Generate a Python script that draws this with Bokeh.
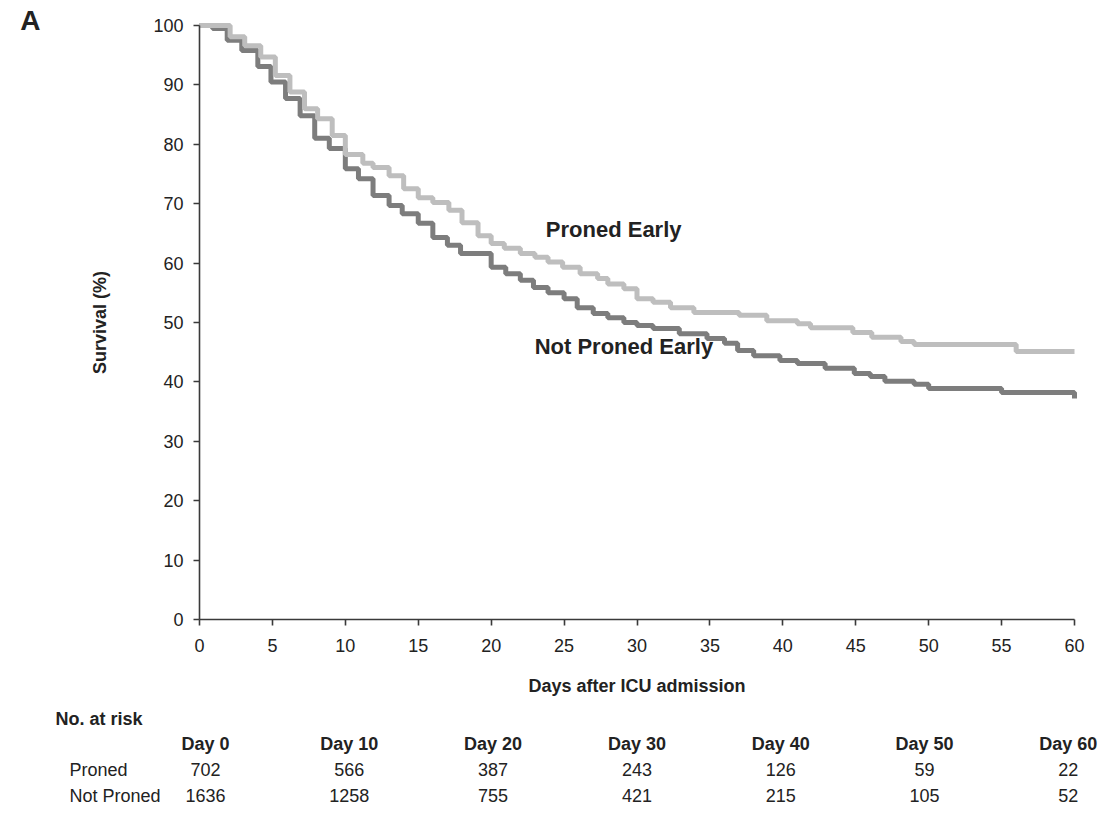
from bokeh.plotting import figure
from bokeh.models import Range1d, Label, FixedTicker
from bokeh.layouts import column
from bokeh.core.properties import value
from bokeh.embed import file_html
from bokeh.resources import INLINE

FONT = "Liberation Sans"

# Kaplan-Meier step data (time in days, survival %)
proned_t = [0, 2.1, 3.1, 4.2, 5.2, 6.2, 7.2, 8.1, 9.1, 10.0, 11.2, 11.9, 13.0, 14.0, 15.0,
            16.0, 17.1, 18.0, 19.1, 20.0, 20.9, 22.0, 23.0, 23.9, 24.9, 26.1, 27.3, 28.0,
            29.1, 30.0, 31.1, 32.3, 33.9, 37.0, 38.9, 41.0, 41.9, 44.8, 46.1, 48.1, 49.0,
            56.0, 60.0]
proned_v = [100, 98.1, 96.6, 94.7, 91.6, 88.8, 86.0, 84.3, 81.5, 78.3, 76.8, 76.1, 74.7,
            72.5, 71.0, 70.2, 68.9, 66.8, 64.6, 63.3, 62.5, 61.6, 61.0, 60.2, 59.3, 58.2,
            57.4, 56.5, 55.7, 54.0, 53.4, 52.5, 51.7, 51.2, 50.3, 49.8, 49.1, 48.3, 47.5,
            46.8, 46.3, 45.1, 45.1]

notproned_t = [0, 0.9, 1.9, 2.9, 4.0, 4.9, 5.9, 6.9, 7.9, 8.9, 10.0, 10.9, 11.9, 13.0, 13.9,
               15.0, 16.0, 17.0, 17.9, 20.0, 21.0, 22.0, 22.9, 23.9, 25.0, 25.9, 27.0, 28.0,
               29.1, 30.0, 31.1, 32.9, 34.8, 36.0, 36.9, 38.0, 39.8, 41.0, 42.9, 44.9, 46.0,
               47.0, 49.0, 50.0, 55.0, 60.0]
notproned_v = [100, 99.5, 97.5, 95.8, 93.1, 90.5, 87.7, 84.8, 81.0, 79.3, 75.9, 74.2, 71.4,
               69.7, 68.3, 66.7, 64.3, 63.0, 61.6, 59.3, 58.2, 57.1, 55.9, 55.0, 54.0, 52.5,
               51.5, 50.8, 50.0, 49.5, 49.0, 48.1, 47.3, 46.5, 45.3, 44.4, 43.6, 43.1, 42.3,
               41.4, 40.9, 40.1, 39.6, 38.9, 38.2, 37.2]

x_ticks = [0, 5, 10, 15, 20, 25, 30, 35, 40, 45, 50, 55, 60]
y_ticks = [0, 10, 20, 30, 40, 50, 60, 70, 80, 90, 100]

# Number at risk table
risk_days = ["Day 0", "Day 10", "Day 20", "Day 30", "Day 40", "Day 50", "Day 60"]
risk_proned = [702, 566, 387, 243, 126, 59, 22]
risk_notproned = [1636, 1258, 755, 421, 215, 105, 52]
row_labels = ["Proned", "Not Proned"]
table_title = "No. at risk"

TEXT = "#222222"
AXIS = "#3a3a3a"

# ---------------- main survival plot ----------------
# frame covers the whole canvas; both axes are pinned at the data origin
PX_PER_DAY = 875 / 60.0
PX_PER_PCT = 5.94
W, H = 1099, 700
X0 = -199 / PX_PER_DAY
Y0 = -(H - 619) / PX_PER_PCT
p = figure(frame_width=W, frame_height=H,
           x_range=Range1d(X0, X0 + W / PX_PER_DAY),
           y_range=Range1d(Y0, Y0 + H / PX_PER_PCT),
           output_backend="svg", toolbar_location=None,
           min_border_left=0, min_border_right=0, min_border_top=0, min_border_bottom=0)
p.outline_line_color = None
p.grid.grid_line_color = None
p.background_fill_color = "white"
p.border_fill_color = "white"

p.step(notproned_t, notproned_v, mode="after", line_color="#7d7d7d", line_width=5)
p.step(proned_t, proned_v, mode="after", line_color="#bebebe", line_width=5)

for ax in (p.xaxis[0], p.yaxis[0]):
    ax.axis_line_color = AXIS
    ax.axis_line_width = 1.6
    ax.major_tick_line_color = AXIS
    ax.major_tick_line_width = 1.6
    ax.major_tick_in = 0
    ax.major_tick_out = 6
    ax.minor_tick_line_color = None
    ax.major_label_text_font = FONT
    ax.major_label_text_font_size = "18px"
    ax.major_label_text_color = TEXT
    ax.axis_label_text_font = FONT
    ax.axis_label_text_font_size = "18px"
    ax.axis_label_text_font_style = "bold"
    ax.axis_label_text_color = TEXT
    ax.fixed_location = 0

p.xaxis[0].ticker = FixedTicker(ticks=x_ticks)
p.yaxis[0].ticker = FixedTicker(ticks=y_ticks)
p.xaxis[0].bounds = (0, 60)
p.yaxis[0].bounds = (0, 100)
p.xaxis[0].axis_label = "Days after ICU admission"
p.yaxis[0].axis_label = "Survival (%)"
p.xaxis[0].major_label_standoff = 13
p.yaxis[0].major_label_standoff = 10
p.xaxis[0].axis_label_standoff = 21
p.yaxis[0].axis_label_standoff = 40

p.add_layout(Label(x=28.4, y=65.7, text="Proned Early", text_font=FONT,
                   text_font_size="22px", text_font_style="bold", text_color=TEXT,
                   text_align="center", text_baseline="middle"))
p.add_layout(Label(x=29.1, y=46.0, text="Not Proned Early", text_font=FONT,
                   text_font_size="22px", text_font_style="bold", text_color=TEXT,
                   text_align="center", text_baseline="middle"))
p.add_layout(Label(x=-11.59, y=100.84, text="A", text_font=FONT,
                   text_font_size="28px", text_font_style="bold", text_color=TEXT,
                   text_align="center", text_baseline="middle"))

# ---------------- number-at-risk table ----------------
COL_PX = 143.8
TX0 = -205 / COL_PX
ROW_PX = 77 / 3.0
t = figure(frame_width=1099, frame_height=106,
           x_range=Range1d(TX0, TX0 + 1099 / COL_PX),
           y_range=Range1d(-(106 - 95) / ROW_PX, 3 + 18 / ROW_PX),
           output_backend="svg", toolbar_location=None,
           min_border_left=0, min_border_right=0, min_border_top=0, min_border_bottom=0,
           x_axis_location=None, y_axis_location=None)
t.outline_line_color = None
t.grid.grid_line_color = None
t.background_fill_color = "white"
t.border_fill_color = "white"

cols = list(range(len(risk_days)))
t.text(x=[(55 - 205) / COL_PX], y=[3], text=[table_title], text_font=value(FONT),
       text_font_size="18px", text_font_style="bold", text_color=TEXT,
       text_align="left", text_baseline="middle")
t.text(x=cols, y=[2] * len(cols), text=risk_days, text_font=value(FONT),
       text_font_size="18px", text_font_style="bold", text_color=TEXT,
       text_align="center", text_baseline="middle")
t.text(x=cols, y=[1] * len(cols), text=[str(v) for v in risk_proned], text_font=value(FONT),
       text_font_size="18px", text_color=TEXT, text_align="center", text_baseline="middle")
t.text(x=cols, y=[0] * len(cols), text=[str(v) for v in risk_notproned], text_font=value(FONT),
       text_font_size="18px", text_color=TEXT, text_align="center", text_baseline="middle")
t.text(x=[(69 - 205) / COL_PX] * 2, y=[1, 0], text=row_labels, text_font=value(FONT),
       text_font_size="18px", text_color=TEXT, text_align="left", text_baseline="middle")

layout = column(p, t, spacing=0)
open("out.html", "w").write(file_html(layout, INLINE))
